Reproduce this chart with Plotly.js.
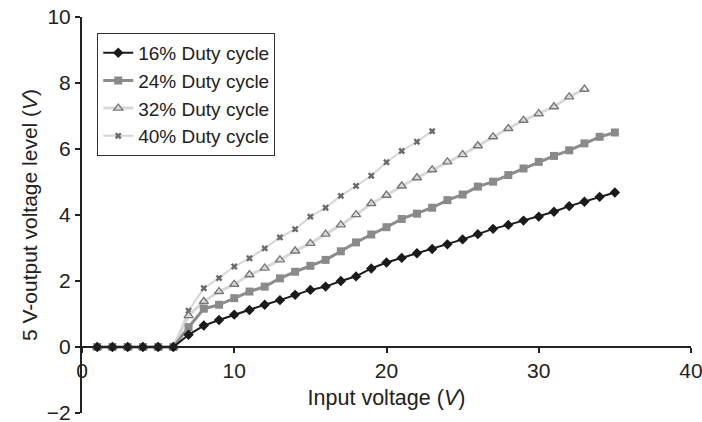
<!DOCTYPE html>
<html>
<head>
<meta charset="utf-8">
<script src="https://cdn.plot.ly/plotly-3.0.1.min.js"></script>
<style>html,body{margin:0;padding:0;background:#fff;}#chart{width:702px;height:422px;}</style>
</head>
<body>
<div id="chart"></div>
<script>
const xTicks = [0, 10, 20, 30, 40];
const yTicks = [-2, 0, 2, 4, 6, 8, 10];

const x16 = [1,2,3,4,5,6,7,8,9,10,11,12,13,14,15,16,17,18,19,20,21,22,23,24,25,26,27,28,29,30,31,32,33,34,35];
const y16 = [0,0,0,0,0,0,0.37,0.65,0.82,0.98,1.12,1.28,1.42,1.58,1.73,1.83,2.00,2.14,2.38,2.56,2.70,2.84,2.97,3.11,3.26,3.42,3.58,3.70,3.83,3.95,4.10,4.27,4.40,4.55,4.68];

const x24 = [1,2,3,4,5,6,7,8,9,10,11,12,13,14,15,16,17,18,19,20,21,22,23,24,25,26,27,28,29,30,31,32,33,34,35];
const y24 = [0,0,0,0,0,0,0.60,1.16,1.28,1.48,1.68,1.83,2.08,2.28,2.46,2.64,2.90,3.17,3.41,3.63,3.88,4.04,4.22,4.45,4.62,4.86,5.01,5.21,5.41,5.61,5.79,5.96,6.17,6.37,6.50];

const x32 = [1,2,3,4,5,6,7,8,9,10,11,12,13,14,15,16,17,18,19,20,21,22,23,24,25,26,27,28,29,30,31,32,33];
const y32 = [0,0,0,0,0,0,0.95,1.38,1.68,1.90,2.19,2.39,2.64,2.91,3.14,3.42,3.70,4.01,4.35,4.60,4.88,5.13,5.37,5.61,5.83,6.10,6.37,6.62,6.87,7.07,7.28,7.58,7.81];

const x40 = [1,2,3,4,5,6,7,8,9,10,11,12,13,14,15,16,17,18,19,20,21,22,23];
const y40 = [0,0,0,0,0,0,1.10,1.78,2.09,2.44,2.69,2.99,3.32,3.57,3.95,4.22,4.58,4.88,5.19,5.60,5.94,6.22,6.54];

const names = ['16% Duty cycle', '24% Duty cycle', '32% Duty cycle', '40% Duty cycle'];

const FONT = 'Liberation Sans, Arial, Helvetica, sans-serif';

const traces = [
  {x: x40, y: y40, name: names[3], mode: 'lines+markers',
   line: {color: '#d6d6d6', width: 2},
   marker: {symbol: 'x', size: 6, color: '#6a6a6a'}},
  {x: x32, y: y32, name: names[2], mode: 'lines+markers',
   line: {color: '#d8d8d8', width: 3},
   marker: {symbol: 'triangle-up-open', size: 8, color: '#777', line: {width: 1.4}}},
  {x: x24, y: y24, name: names[1], mode: 'lines+markers',
   line: {color: '#8c8c8c', width: 3},
   marker: {symbol: 'square', size: 8, color: '#8a8a8a'}},
  {x: x16, y: y16, name: names[0], mode: 'lines+markers',
   line: {color: '#1a1a1a', width: 2},
   marker: {symbol: 'diamond', size: 8, color: '#1a1a1a'}}
];

const layout = {
  width: 702, height: 422,
  margin: {l: 82, r: 11, t: 17, b: 9},
  paper_bgcolor: '#fff', plot_bgcolor: '#fff',
  font: {family: FONT, size: 21, color: '#222'},
  showlegend: true,
  legend: {
    x: 0.025, y: 0.96, xanchor: 'left', yanchor: 'top',
    bgcolor: '#fff', bordercolor: '#333', borderwidth: 1,
    font: {family: FONT, size: 19, color: '#222'},
    traceorder: 'reversed', itemwidth: 30, tracegroupgap: 0
  },
  xaxis: {
    range: [0, 40], tickvals: xTicks, ticktext: xTicks.map(String),
    anchor: 'free', position: 2/12,
    showline: true, linecolor: '#222', linewidth: 2,
    ticks: 'outside', ticklen: 5, tickwidth: 2, tickcolor: '#222',
    showgrid: false, zeroline: false, ticklabeloverflow: 'allow',
    tickfont: {size: 21},
    title: {text: 'Input voltage (<i>V</i>)', font: {size: 21.5}, standoff: 8}
  },
  yaxis: {
    range: [-2, 10], tickvals: yTicks, ticktext: yTicks.map(v => v < 0 ? '\u2212' + Math.abs(v) : String(v)),
    showline: true, linecolor: '#222', linewidth: 2,
    ticks: 'outside', ticklen: 5, tickwidth: 2, tickcolor: '#222',
    showgrid: false, zeroline: false, ticklabeloverflow: 'allow',
    tickfont: {size: 21},
    title: {text: '5 V-output voltage level (<i>V</i>)', font: {size: 21}, standoff: 3}
  }
};

Plotly.newPlot('chart', traces, layout, {displayModeBar: false, staticPlot: true});
</script>
</body>
</html>
